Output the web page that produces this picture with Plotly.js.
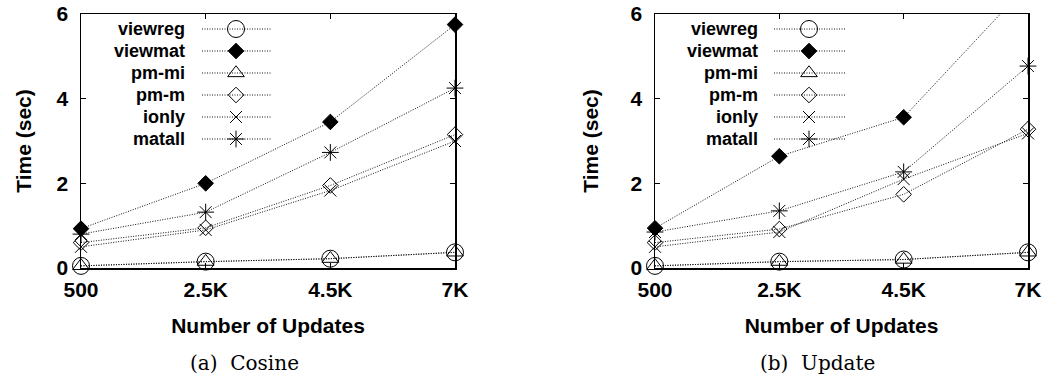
<!DOCTYPE html>
<html><head><meta charset="utf-8">
<script src="https://cdn.plot.ly/plotly-3.0.1.min.js"></script>
<style>html,body{margin:0;padding:0;background:#fff;} #chart{width:1048px;height:382px;}</style>
</head><body><div id="chart"></div>
<script>
// ---- data ----
const categories = ['500', '2.5K', '4.5K', '7K'];
const seriesNames = ['viewreg', 'viewmat', 'pm-mi', 'pm-m', 'ionly', 'matall'];
const cosineViewreg = [0.05, 0.15, 0.22, 0.37];
const cosineViewmat = [0.93, 2.0, 3.45, 5.75];
const cosinePmMi    = [0.05, 0.15, 0.22, 0.37];
const cosinePmM     = [0.6, 0.95, 1.95, 3.15];
const cosineIonly   = [0.5, 0.9, 1.83, 3.0];
const cosineMatall  = [0.8, 1.32, 2.73, 4.25];
const updateViewreg = [0.05, 0.15, 0.2, 0.37];
const updateViewmat = [0.94, 2.64, 3.56, 6.7];
const updatePmMi    = [0.05, 0.15, 0.2, 0.37];
const updatePmM     = [0.6, 0.92, 1.74, 3.28];
const updateIonly   = [0.5, 0.85, 2.1, 3.18];
const updateMatall  = [0.85, 1.35, 2.27, 4.77];
const yTickVals = [0, 2, 4, 6];
const captions = ['(a)\u00a0\u00a0Cosine', '(b)\u00a0\u00a0Update'];
const xTitleText = 'Number of Updates';
const yTitleText = 'Time (sec)';

const cosineSeries = [cosineViewreg, cosineViewmat, cosinePmMi, cosinePmM, cosineIonly, cosineMatall];
const updateSeries = [updateViewreg, updateViewmat, updatePmMi, updatePmM, updateIonly, updateMatall];

// ---- styles ----
const W = 1048, H = 382;
const SANS = "'Liberation Sans', Arial, Helvetica, sans-serif";
const markerStyles = [
  {symbol: 'circle-open', size: 17, color: '#000'},
  {symbol: 'diamond', size: 12, color: '#000'},
  {symbol: 'triangle-up-open', size: 14.5, color: '#000'},
  {symbol: 'diamond-open', size: 12, color: '#000'},
  {symbol: 'x-thin-open', size: 12, color: '#000'},
  {symbol: 'asterisk-open', size: 14, color: '#000'}
];
const lineStyle = {color: '#111', width: 1, dash: '1px,1.5px'};

// panel geometry (pixels)
const panels = [
  {xa: 'x', ya: 'y', left: 81, right: 455, series: cosineSeries,
   legTextRight: 187, legLine0: 202, legLine1: 272, legSym: 236},
  {xa: 'x2', ya: 'y2', left: 655, right: 1028, series: updateSeries,
   legTextRight: 760, legLine0: 774, legLine1: 845, legSym: 809}
];
const plotTop = 14, plotBottom = 268;
const legRows = [29, 51, 73, 95, 117, 139];

const traces = [];
const annotations = [];
panels.forEach((p, pi) => {
  p.series.forEach((vals, si) => {
    const ms = markerStyles[si];
    traces.push({
      type: 'scatter', mode: 'lines+markers', x: categories, y: vals,
      xaxis: p.xa, yaxis: p.ya, name: seriesNames[si], showlegend: false,
      cliponaxis: false, line: lineStyle,
      marker: {symbol: ms.symbol, size: ms.size, color: ms.color, line: {color: '#000', width: 1}}
    });
  });
  // custom legend (text left of sample, like the original)
  seriesNames.forEach((nm, si) => {
    const ms = markerStyles[si];
    const yy = legRows[si];
    traces.push({type: 'scatter', mode: 'lines', x: [p.legLine0, p.legLine1], y: [yy, yy],
      xaxis: 'x3', yaxis: 'y3', showlegend: false, hoverinfo: 'skip', line: lineStyle});
    traces.push({type: 'scatter', mode: 'markers', x: [p.legSym], y: [yy],
      xaxis: 'x3', yaxis: 'y3', showlegend: false, hoverinfo: 'skip', cliponaxis: false,
      marker: {symbol: ms.symbol, size: ms.size, color: ms.color, line: {color: '#000', width: 1}}});
    annotations.push({xref: 'x3', yref: 'y3', x: p.legTextRight, y: yy, text: '<b>' + nm + '</b>', showarrow: false,
      xanchor: 'right', yanchor: 'middle', font: {family: SANS, size: 18, color: '#000'}});
  });
  annotations.push({xref: 'x3', yref: 'y3', x: (p.left + p.right) / 2 - 24, y: 363,
    text: captions[pi], showarrow: false, xanchor: 'center', yanchor: 'middle',
    font: {family: "'DejaVu Serif', serif", size: 20, color: '#000'}});
});

function xAxis(p) {
  return {domain: [p.left / W, p.right / W], type: 'category', range: [0, 3],
    showline: true, linecolor: '#000', linewidth: 1.5, mirror: 'ticks',
    ticks: 'inside', ticklen: 5, tickcolor: '#000', tickwidth: 1,
    showgrid: false, zeroline: false, automargin: false, fixedrange: true,
    ticklabelstandoff: 2,
    tickfont: {family: SANS, size: 21, weight: 'bold', color: '#000'},
    title: {text: xTitleText, standoff: 18, font: {family: SANS, size: 21, weight: 'bold', color: '#000'}}};
}
function yAxis(p, anchor, standoff) {
  return {domain: [(H - plotBottom) / H, (H - plotTop) / H], range: [0, 6], tickvals: yTickVals,
    anchor: anchor,
    showline: true, linecolor: '#000', linewidth: 1.5, mirror: 'ticks',
    ticks: 'inside', ticklen: 5, tickcolor: '#000', tickwidth: 1,
    showgrid: false, zeroline: false, automargin: false, fixedrange: true,
    ticklabelstandoff: 7,
    tickfont: {family: SANS, size: 21, weight: 'bold', color: '#000'},
    title: {text: yTitleText, standoff: standoff, font: {family: SANS, size: 21, weight: 'bold', color: '#000'}}};
}

const layout = {
  width: W, height: H, margin: {l: 0, r: 0, t: 0, b: 0},
  font: {family: SANS, color: '#000'},
  paper_bgcolor: '#fff', plot_bgcolor: 'rgba(0,0,0,0)', showlegend: false,
  xaxis: Object.assign(xAxis(panels[0]), {anchor: 'y'}),
  yaxis: yAxis(panels[0], 'x', 19.5),
  xaxis2: Object.assign(xAxis(panels[1]), {anchor: 'y2'}),
  yaxis2: yAxis(panels[1], 'x2', 26),
  xaxis3: {domain: [0, 1], range: [0, W], visible: false, fixedrange: true, anchor: 'y3'},
  yaxis3: {domain: [0, 1], range: [H, 0], visible: false, fixedrange: true, anchor: 'x3'},
  annotations: annotations
};

Plotly.newPlot('chart', traces, layout, {displayModeBar: false, staticPlot: true});
</script>
</body></html>
